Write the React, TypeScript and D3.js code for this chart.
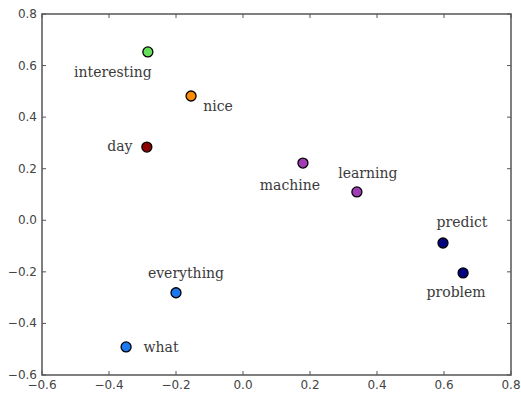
import React from 'react'
import * as d3 from 'd3'

const words = ['interesting', 'nice', 'day', 'machine', 'learning', 'everything', 'what', 'predict', 'problem']
const xValues = [-0.284, -0.155, -0.287, 0.179, 0.34, -0.2, -0.349, 0.597, 0.657]
const yValues = [0.653, 0.482, 0.284, 0.222, 0.11, -0.281, -0.491, -0.088, -0.204]
const pointColors = ['#66e05a', '#ff8c00', '#8b0000', '#a03cb4', '#a03cb4', '#1a78f0', '#1a78f0', '#000080', '#000080']
const xTicks = [-0.6, -0.4, -0.2, 0.0, 0.2, 0.4, 0.6, 0.8]
const yTicks = [-0.6, -0.4, -0.2, 0.0, 0.2, 0.4, 0.6, 0.8]

// label offsets from the marker, in px (annotation placement)
const labelOffsets: [number, number][] = [
  [-35, 25], [27, 15], [-27, 4], [-13, 27], [11, -14], [10, -15], [35, 5], [19, -16], [-7, 24]
]

const W = 521
const H = 393
const margin = { top: 14, right: 10, bottom: 18, left: 42 }

export default function App() {
  const x = d3.scaleLinear().domain([-0.6, 0.8]).range([margin.left, W - margin.right])
  const y = d3.scaleLinear().domain([-0.6, 0.8]).range([H - margin.bottom, margin.top])
  const fmt = (v: number) => d3.format('.1f')(v).replace('-', '\u2212')

  const axisColor = '#555'
  const tickLen = 4

  return (
    <svg width={W} height={H} style={{ position: 'fixed', left: 0, top: 0, background: '#fff' }}>
      {/* ticks inward on all four sides */}
      {xTicks.map(t => (
        <g key={'x' + t}>
          <line x1={x(t)} x2={x(t)} y1={y(-0.6)} y2={y(-0.6) - tickLen} stroke={axisColor} strokeWidth={1} />
          <line x1={x(t)} x2={x(t)} y1={y(0.8)} y2={y(0.8) + tickLen} stroke={axisColor} strokeWidth={1} />
          <text x={x(t)} y={y(-0.6) + 14} textAnchor="middle" fontFamily="DejaVu Sans" fontSize={12} fill="#444">{fmt(t)}</text>
        </g>
      ))}
      {yTicks.map(t => (
        <g key={'y' + t}>
          <line x1={x(-0.6)} x2={x(-0.6) + tickLen} y1={y(t)} y2={y(t)} stroke={axisColor} strokeWidth={1} />
          <line x1={x(0.8)} x2={x(0.8) - tickLen} y1={y(t)} y2={y(t)} stroke={axisColor} strokeWidth={1} />
          <text x={x(-0.6) - 5} y={y(t) + 4} textAnchor="end" fontFamily="DejaVu Sans" fontSize={12} fill="#444">{fmt(t)}</text>
        </g>
      ))}
      <rect x={x(-0.6)} y={y(0.8)} width={x(0.8) - x(-0.6)} height={y(-0.6) - y(0.8)} fill="none" stroke={axisColor} strokeWidth={1.5} />

      {words.map((w, i) => (
        <g key={w}>
          <circle cx={x(xValues[i])} cy={y(yValues[i])} r={5} fill={pointColors[i]} stroke="#000" strokeWidth={1.3} />
          <text
            x={x(xValues[i]) + labelOffsets[i][0]}
            y={y(yValues[i]) + labelOffsets[i][1]}
            textAnchor="middle"
            fontFamily="DejaVu Serif"
            fontSize={14}
            fill="#3a3a3a"
          >{w}</text>
        </g>
      ))}
    </svg>
  )
}
